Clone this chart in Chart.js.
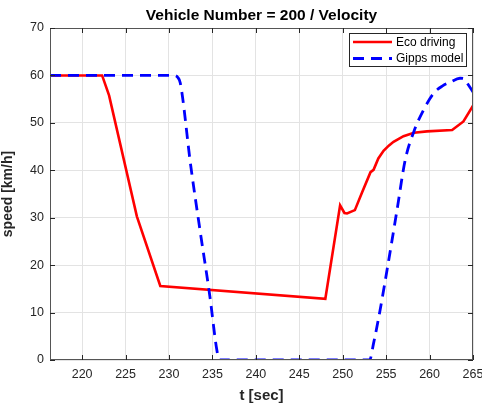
<!DOCTYPE html>
<html>
<head>
<meta charset="utf-8">
<script src="https://cdn.jsdelivr.net/npm/chart.js@4.4.1/dist/chart.umd.min.js"></script>
<style>
  html, body { margin: 0; padding: 0; background: #fff; }
  #wrap { width: 482px; height: 405px; }
</style>
</head>
<body>
<div id="wrap"><canvas id="speedChart" width="482" height="405"></canvas></div>
<script>
// vehicle 200 speed traces (t in s, v in km/h)
const ecoT = [216.3, 222.3, 223.1, 226.3, 229.0, 248.0, 249.7, 250.2, 250.5, 251.4, 252.2, 253.2, 253.55, 254.1, 254.7, 255.3, 255.85, 257.0, 258.2, 259.7, 262.6, 263.9, 265.0];
const ecoV = [60, 60, 55.8, 30.3, 15.6, 12.9, 32.6, 31.0, 30.9, 31.6, 35.2, 39.6, 40.1, 42.5, 44.1, 45.2, 46.0, 47.2, 47.9, 48.2, 48.5, 50.3, 53.6];

const gippsT = [216.3, 230.7, 231.0, 231.3, 232.5, 233.6, 234.7, 235.5, 235.8, 253.1, 253.55, 254.3, 255.3, 256.25, 257.2, 258.2, 259.3, 260.5, 261.5, 262.4, 263.5, 264.0, 264.4, 265.0];
const gippsV = [60, 60, 59.6, 58.4, 41.0, 27.0, 13.5, 2.2, 0, 0, 3.5, 10.5, 21.1, 31.6, 42.2, 48.2, 52.7, 56.3, 57.8, 58.6, 59.4, 59.3, 58.2, 56.5];

const xTicks = [220, 225, 230, 235, 240, 245, 250, 255, 260, 265];
const yTicks = [0, 10, 20, 30, 40, 50, 60, 70];

const chartTitle = 'Vehicle Number = 200 / Velocity';

const AXIS_COLOR = '#262626';
const FONT = 'Arial, "Liberation Sans", Helvetica, sans-serif';

function toPoints(ts, vs) {
    return ts.map((t, i) => ({ x: t, y: vs[i] }));
}

// title centred over the axes, box around plot area, inward ticks, legend
const matlabAxes = {
    id: 'matlabAxes',
    afterDraw(chart) {
        const ctx = chart.ctx;
        const a = chart.chartArea;
        const xs = chart.scales.x, ys = chart.scales.y;
        const len = 5;
        ctx.save();

        ctx.fillStyle = '#000000';
        ctx.font = 'bold 15.5px ' + FONT;
        ctx.textAlign = 'center';
        ctx.textBaseline = 'middle';
        ctx.fillText(chartTitle, (a.left + a.right) / 2, 16);

        ctx.strokeStyle = '#555555';
        ctx.lineWidth = 1;
        ctx.strokeRect(a.left + 0.5, a.top + 0.5, a.right - a.left - 1, a.bottom - a.top - 1);
        ctx.strokeStyle = AXIS_COLOR;
        ctx.beginPath();
        xTicks.forEach(v => {
            const px = Math.round(xs.getPixelForValue(v)) + 0.5;
            ctx.moveTo(px, a.bottom); ctx.lineTo(px, a.bottom - len);
            ctx.moveTo(px, a.top); ctx.lineTo(px, a.top + len);
        });
        yTicks.forEach(v => {
            const py = Math.round(ys.getPixelForValue(v)) + 0.5;
            ctx.moveTo(a.left, py); ctx.lineTo(a.left + len, py);
            ctx.moveTo(a.right, py); ctx.lineTo(a.right - len, py);
        });
        ctx.stroke();

        // legend, top right inside the axes
        const bx = 349.5, by = 33.5, bw = 117, bh = 33;
        ctx.fillStyle = '#ffffff';
        ctx.fillRect(bx, by, bw, bh);
        ctx.strokeStyle = '#262626';
        ctx.lineWidth = 1;
        ctx.strokeRect(bx, by, bw, bh);
        ctx.font = '12px ' + FONT;
        ctx.textAlign = 'left';
        const rows = [42, 58.5];
        [0, 1].forEach(i => {
            const ds = chart.data.datasets[i];
            ctx.strokeStyle = ds.borderColor;
            ctx.lineWidth = ds.borderWidth;
            ctx.setLineDash(ds.borderDash || []);
            ctx.beginPath();
            ctx.moveTo(353, rows[i]);
            ctx.lineTo(392, rows[i]);
            ctx.stroke();
            ctx.setLineDash([]);
            ctx.fillStyle = '#000000';
            ctx.fillText(ds.label, 396, rows[i] + 0.5);
        });
        ctx.restore();
    }
};

new Chart(document.getElementById('speedChart'), {
    type: 'line',
    data: {
        datasets: [
            {
                label: 'Eco driving',
                data: toPoints(ecoT, ecoV),
                borderColor: '#ff0000',
                borderWidth: 2.6,
                pointRadius: 0,
                tension: 0,
                fill: false,
                order: 1
            },
            {
                label: 'Gipps model',
                data: toPoints(gippsT, gippsV),
                borderColor: '#0000ff',
                borderWidth: 2.8,
                borderDash: [11, 7],
                pointRadius: 0,
                cubicInterpolationMode: 'monotone',
                fill: false,
                order: 0
            }
        ]
    },
    options: {
        responsive: false,
        animation: false,
        layout: { padding: { left: 0, right: 9, top: 28, bottom: 0 } },
        plugins: {
            legend: { display: false },
            tooltip: { enabled: false },
            title: { display: false }
        },
        scales: {
            x: {
                type: 'linear',
                min: 216.3,
                max: 265,
                afterBuildTicks: s => { s.ticks = xTicks.map(v => ({ value: v })); },
                afterFit: s => { s.height = 45; s.paddingRight = 0; s.paddingLeft = 0; },
                grid: { color: '#e3e3e3', drawTicks: false },
                border: { display: false },
                ticks: {
                    color: AXIS_COLOR,
                    font: { family: FONT, size: 12.5 },
                    padding: 7,
                    maxRotation: 0,
                    autoSkip: false
                },
                title: {
                    display: true,
                    text: 't [sec]',
                    color: AXIS_COLOR,
                    font: { family: FONT, size: 15, weight: 'bold' },
                    padding: { top: 3, bottom: 0 }
                }
            },
            y: {
                min: 0,
                max: 70,
                afterBuildTicks: s => { s.ticks = yTicks.map(v => ({ value: v })); },
                afterFit: s => { s.width = 50; s.paddingTop = 0; s.paddingBottom = 0; },
                grid: { color: '#e3e3e3', drawTicks: false },
                border: { display: false },
                ticks: {
                    color: AXIS_COLOR,
                    font: { family: FONT, size: 12.5 },
                    padding: 6
                },
                title: {
                    display: true,
                    text: 'speed [km/h]',
                    color: AXIS_COLOR,
                    font: { family: FONT, size: 14, weight: 'bold' },
                    padding: { top: 0, bottom: 3 }
                }
            }
        }
    },
    plugins: [matlabAxes]
});
</script>
</body>
</html>
